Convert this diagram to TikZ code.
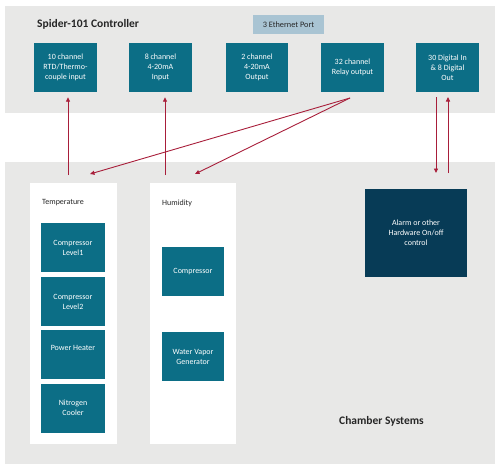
\documentclass[tikz,border=0pt]{standalone}
\usepackage{fontspec}
\setmainfont{Carlito}
\usetikzlibrary{arrows.meta,calc}
\definecolor{panelgray}{HTML}{E8E8E7}
\definecolor{teal}{HTML}{0C6E86}
\definecolor{navy}{HTML}{073B56}
\definecolor{ethblue}{HTML}{A9C4D3}
\definecolor{arrred}{HTML}{A81E3A}
\tikzset{
  panel/.style={fill=panelgray,draw=none},
  subpanel/.style={fill=white,draw=none},
  tealbox/.style={fill=teal,draw=none,text=white,align=center,inner sep=1pt,
    font=\fontsize{8}{10}\selectfont,minimum height=49pt},
  navybox/.style={fill=navy,draw=none,text=white,align=center,
    font=\fontsize{8}{10}\selectfont},
  lbl/.style={font=\fontsize{8}{9}\selectfont,text=black!85,anchor=west,inner sep=0pt},
  title/.style={font=\fontsize{11.5}{13}\selectfont\bfseries,text=black!85,inner sep=0pt},
  arr/.style={draw=arrred,line width=0.9pt,-{Triangle[length=4.5pt,width=4pt]}},
  ln/.style={draw=arrred,line width=0.9pt}
}
\begin{document}
\begin{tikzpicture}[x=1pt,y=-1pt]
\useasboundingbox (0,0) rectangle (500,475);
% panels
\node[panel,minimum width=490pt,minimum height=107pt,anchor=north west] (top) at (5,6) {};
\node[panel,minimum width=490pt,minimum height=302pt,anchor=north west] (bot) at (5,162) {};
\node[title,anchor=west] (ttl) at (37,24) {Spider-101 Controller};
\node[fill=ethblue,minimum width=71pt,minimum height=19pt,inner sep=0pt,
  font=\fontsize{8.3}{9}\selectfont,text=black!85] (eth) at (288.5,24.5) {3 Ethernet Port};
% top boxes
\node[tealbox,minimum width=63pt] (b1) at (65.5,67.5) {10 channel\\RTD/Thermo-\\couple input};
\node[tealbox,minimum width=63pt] (b2) at (160.5,67.5) {8 channel\\4-20mA\\Input};
\node[tealbox,minimum width=62pt] (b3) at (257,67.5) {2 channel\\4-20mA\\Output};
\node[tealbox,minimum width=63pt] (b4) at (352.5,67.5) {32 channel\\Relay output};
\node[tealbox,minimum width=63pt] (b5) at (447.5,67.5) {30 Digital In\\\& 8 Digital\\Out};
% sub panels
\node[subpanel,minimum width=87pt,minimum height=261pt,anchor=north west] (tp) at (30,183) {};
\node[subpanel,minimum width=86pt,minimum height=261pt,anchor=north west] (hp) at (150,183) {};
\node[lbl] (tlbl) at (42,203) {Temperature};
\node[lbl] (hlbl) at (162,203) {Humidity};
% temperature boxes
\node[tealbox,minimum width=64pt] (t1) at (73,247.5) {Compressor\\Level1};
\node[tealbox,minimum width=64pt] (t2) at (73,301.5) {Compressor\\Level2};
\node[tealbox,minimum width=64pt] (t3) at (73,354.5) {Power Heater\\[3pt]};
\node[tealbox,minimum width=64pt] (t4) at (73,408) {Nitrogen\\Cooler};
% humidity boxes
\node[tealbox,minimum width=62pt] (h1) at (193,271.5) {Compressor};
\node[tealbox,minimum width=62pt] (h2) at (193,356.5) {Water Vapor\\Generator};
% alarm
\node[navybox,minimum width=102pt,minimum height=88pt] (al) at (416,233) {Alarm or other\\Hardware On/off\\control};
\node[title] (ch) at (381.5,421) {Chamber Systems};
% connectors
\coordinate (s1) at (68,175);
\coordinate (s2) at (165,175);
\draw[arr,shorten >=5pt] (s1) -- (s1 |- b1.south);
\draw[arr,shorten >=5pt] (s2) -- (s2 |- b2.south);
\coordinate (r0) at (350,98);
\coordinate (e1) at (90,174);
\coordinate (e2) at (195,174);
\draw[arr] (r0) -- (e1);
\draw[arr] (r0) -- (e2);
\coordinate (d1) at (436,97);
\coordinate (d2) at (436,173);
\coordinate (u1) at (448,173);
\coordinate (u2) at (448,97);
\draw[arr] (d1) -- (d2);
\draw[arr] (u1) -- (u2);
\end{tikzpicture}
\end{document}
